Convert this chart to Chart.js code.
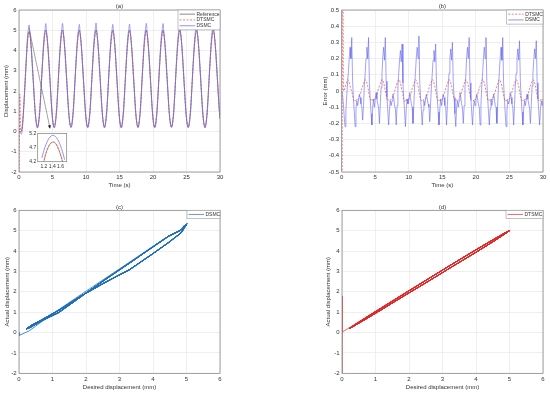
<!DOCTYPE html>
<html>
<head>
<meta charset="utf-8">
<script src="https://cdn.jsdelivr.net/npm/chart.js@4.4.1/dist/chart.umd.min.js"></script>
<style>
  body { margin: 0; background: #fff; }
  #wrap { position: relative; width: 550px; height: 395px; overflow: hidden; }
  canvas { position: absolute; }
</style>
</head>
<body>
<div id="wrap">
  <canvas id="chartA" width="275" height="195" style="left:0;top:0"></canvas>
  <canvas id="chartB" width="275" height="195" style="left:275px;top:0"></canvas>
  <canvas id="chartC" width="275" height="200" style="left:0;top:195px"></canvas>
  <canvas id="chartD" width="275" height="200" style="left:275px;top:195px"></canvas>
  <canvas id="chartInset" width="46" height="42" style="left:25px;top:129px;z-index:2"></canvas>
</div>
<script>
// sample step of the time series (s)
const dt = 0.125;

// reference displacement (mm), one row per cycle
const reference = [
  0, 0, 0.0, 0.02, 0.30, 0.80, 1.45, 2.20, 2.95, 3.70, 4.35, 4.80,
  4.93, 4.84, 4.47, 3.95, 3.30, 2.58, 1.85, 1.19, 0.68, 0.35, 0.21, 0.35, 0.68, 1.19, 1.85, 2.58, 3.30, 3.95, 4.47, 4.84,
  5.00, 4.85, 4.47, 3.95, 3.31, 2.59, 1.86, 1.20, 0.68, 0.34, 0.22, 0.34, 0.67, 1.19, 1.85, 2.58, 3.30, 3.96, 4.48, 4.85,
  5.01, 4.84, 4.46, 3.94, 3.30, 2.58, 1.85, 1.19, 0.68, 0.35, 0.23, 0.35, 0.68, 1.20, 1.86, 2.59, 3.31, 3.95, 4.47, 4.84,
  5.00, 4.84, 4.47, 3.95, 3.30, 2.58, 1.85, 1.19, 0.67, 0.34, 0.22, 0.34, 0.68, 1.19, 1.85, 2.58, 3.30, 3.95, 4.47, 4.84,
  5.02, 4.85, 4.48, 3.96, 3.31, 2.59, 1.86, 1.19, 0.68, 0.35, 0.22, 0.35, 0.68, 1.19, 1.85, 2.58, 3.30, 3.95, 4.46, 4.84,
  5.00, 4.84, 4.47, 3.95, 3.30, 2.58, 1.85, 1.20, 0.68, 0.34, 0.21, 0.34, 0.68, 1.19, 1.86, 2.59, 3.31, 3.96, 4.47, 4.84,
  5.00, 4.84, 4.46, 3.94, 3.30, 2.58, 1.85, 1.19, 0.68, 0.35, 0.22, 0.35, 0.68, 1.19, 1.85, 2.58, 3.30, 3.95, 4.47, 4.85,
  5.01, 4.85, 4.47, 3.95, 3.31, 2.58, 1.86, 1.19, 0.67, 0.34, 0.22, 0.34, 0.68, 1.20, 1.86, 2.58, 3.30, 3.95, 4.47, 4.84,
  5.00, 4.84, 4.47, 3.95, 3.30, 2.58, 1.85, 1.19, 0.68, 0.35, 0.23, 0.35, 0.68, 1.19, 1.85, 2.58, 3.31, 3.96, 4.48, 4.85,
  5.01, 4.84, 4.47, 3.95, 3.30, 2.58, 1.85, 1.19, 0.68, 0.34, 0.22, 0.34, 0.68, 1.19, 1.85, 2.58, 3.30, 3.95, 4.47, 4.84,
  5.00, 4.85, 4.47, 3.95, 3.31, 2.59, 1.86, 1.19, 0.68, 0.35, 0.22, 0.35, 0.67, 1.19, 1.85, 2.58, 3.30, 3.95, 4.47, 4.84,
  5.00, 4.84, 4.47, 3.95, 3.30, 2.58, 1.85, 1.19, 0.68
];

// tracking error of DSMC (mm)
const errorDSMC = [
  0, -0.02, -0.08, -0.16, -0.22, -0.12, -0.03, 0.05, 0.12, 0.20, 0.27, 0.20,
  0.33, 0.06, -0.05, -0.13, -0.22, -0.11, -0.06, -0.09, -0.06, -0.02, -0.04, -0.08, -0.10, -0.18, -0.09, 0.03, 0.11, 0.20, 0.27, 0.20,
  0.33, 0.05, -0.05, -0.14, -0.21, -0.10, -0.05, -0.10, -0.05, -0.01, -0.05, -0.08, -0.10, -0.20, -0.08, 0.02, 0.10, 0.21, 0.27, 0.19,
  0.33, 0.06, -0.04, -0.13, -0.21, -0.11, -0.06, -0.09, -0.06, -0.02, -0.04, -0.09, -0.11, -0.21, -0.09, 0.03, 0.11, 0.19, 0.25, 0.18,
  0.29, 0.05, -0.05, -0.13, -0.22, -0.11, -0.05, -0.08, -0.06, -0.01, -0.04, -0.08, -0.10, -0.20, -0.09, 0.04, 0.12, 0.21, 0.27, 0.20,
  0.34, 0.06, -0.04, -0.12, -0.21, -0.12, -0.06, -0.09, -0.05, -0.02, -0.05, -0.08, -0.10, -0.19, -0.08, 0.03, 0.11, 0.19, 0.25, 0.18,
  0.29, 0.05, -0.05, -0.13, -0.21, -0.11, -0.05, -0.09, -0.06, -0.02, -0.04, -0.09, -0.10, -0.21, -0.09, 0.03, 0.11, 0.20, 0.26, 0.19,
  0.30, 0.06, -0.04, -0.14, -0.22, -0.10, -0.06, -0.10, -0.06, -0.01, -0.04, -0.08, -0.11, -0.20, -0.09, 0.02, 0.10, 0.21, 0.27, 0.20,
  0.33, 0.05, -0.05, -0.13, -0.21, -0.11, -0.06, -0.09, -0.05, -0.02, -0.05, -0.08, -0.10, -0.21, -0.09, 0.03, 0.11, 0.20, 0.27, 0.20,
  0.33, 0.06, -0.04, -0.13, -0.21, -0.11, -0.05, -0.09, -0.06, -0.02, -0.04, -0.09, -0.10, -0.20, -0.08, 0.04, 0.12, 0.21, 0.27, 0.19,
  0.33, 0.05, -0.05, -0.14, -0.22, -0.12, -0.06, -0.08, -0.06, -0.01, -0.04, -0.08, -0.10, -0.21, -0.09, 0.03, 0.11, 0.20, 0.26, 0.19,
  0.31, 0.06, -0.04, -0.13, -0.21, -0.11, -0.06, -0.09, -0.05, -0.02, -0.05, -0.08, -0.11, -0.20, -0.09, 0.03, 0.11, 0.19, 0.26, 0.20,
  0.31, 0.05, -0.05, -0.13, -0.21, -0.11, -0.06, -0.09, -0.06
];

// tracking error of DTSMC (mm), first two samples are the start-up transient
const errorDTSMC = [
  -6.0, 1.80, 0.0, 0.005, 0.02, 0.04, 0.055, 0.07, 0.065, 0.05, 0.03, 0.01,
  0.0, -0.025, -0.05, -0.06, -0.055, -0.06, -0.05, -0.055, -0.05, -0.035, -0.02, -0.005, 0.015, 0.03, 0.045, 0.06, 0.07, 0.065, 0.05, 0.03,
  0.0, -0.03, -0.05, -0.06, -0.05, -0.06, -0.055, -0.05, -0.05, -0.035, -0.02, 0.0, 0.015, 0.03, 0.045, 0.06, 0.072, 0.065, 0.05, 0.03,
  0.0, -0.025, -0.05, -0.06, -0.055, -0.06, -0.05, -0.055, -0.05, -0.03, -0.02, -0.005, 0.015, 0.03, 0.05, 0.06, 0.07, 0.065, 0.05, 0.025,
  0.0, -0.025, -0.05, -0.065, -0.055, -0.06, -0.05, -0.055, -0.05, -0.035, -0.02, -0.005, 0.015, 0.03, 0.045, 0.06, 0.07, 0.065, 0.05, 0.03,
  0.0, -0.03, -0.05, -0.06, -0.055, -0.06, -0.05, -0.05, -0.05, -0.035, -0.02, -0.005, 0.015, 0.035, 0.045, 0.06, 0.072, 0.065, 0.05, 0.03,
  0.0, -0.025, -0.05, -0.06, -0.055, -0.06, -0.05, -0.055, -0.05, -0.035, -0.02, -0.005, 0.015, 0.03, 0.045, 0.06, 0.07, 0.065, 0.05, 0.03,
  0.0, -0.025, -0.05, -0.06, -0.05, -0.06, -0.055, -0.055, -0.05, -0.035, -0.02, -0.005, 0.015, 0.03, 0.045, 0.06, 0.07, 0.06, 0.05, 0.03,
  0.0, -0.025, -0.05, -0.06, -0.055, -0.06, -0.05, -0.055, -0.05, -0.035, -0.02, -0.005, 0.015, 0.03, 0.045, 0.06, 0.072, 0.065, 0.05, 0.03,
  0.0, -0.03, -0.05, -0.06, -0.055, -0.06, -0.05, -0.055, -0.05, -0.035, -0.02, -0.005, 0.015, 0.03, 0.045, 0.06, 0.07, 0.065, 0.05, 0.03,
  0.0, -0.025, -0.05, -0.06, -0.055, -0.065, -0.05, -0.055, -0.05, -0.035, -0.02, -0.005, 0.015, 0.03, 0.045, 0.06, 0.07, 0.065, 0.05, 0.03,
  0.0, -0.025, -0.05, -0.06, -0.055, -0.06, -0.05, -0.055, -0.05, -0.035, -0.02, -0.005, 0.015, 0.03, 0.045, 0.06, 0.07, 0.065, 0.05, 0.03,
  0.0, -0.025, -0.05, -0.06, -0.055, -0.06, -0.05, -0.055, -0.05
];

// zoomed view around the first peak (inset of panel a)
const insetTime = [1.15, 1.2, 1.25, 1.3, 1.35, 1.4, 1.45, 1.5, 1.55, 1.6, 1.65, 1.7];
const insetDSMC = [4.33, 4.60, 4.81, 4.97, 5.08, 5.13, 5.12, 5.06, 4.94, 4.77, 4.55, 4.27];
const insetReference = [3.90, 4.22, 4.50, 4.70, 4.83, 4.89, 4.89, 4.81, 4.66, 4.45, 4.20, 3.85];
const insetXTicks = [1.2, 1.4, 1.6];
const insetYTicks = [4.2, 4.7, 5.2];

// build the series
const time = reference.map((_, i) => i * dt);
const dsmc = reference.map((r, i) => r + errorDSMC[i]);
const dtsmc = reference.map((r, i) => r + errorDTSMC[i]);
const pts = (xs, ys) => xs.map((x, i) => ({ x: x, y: ys[i] }));

const BLUE = '#6464f0';
const RED = '#e4474c';
const font = { family: 'Liberation Sans, Arial, sans-serif', size: 6 };

function xAxis(min, max, step, height, label) {
    return {
        type: 'linear', min: min, max: max,
        ticks: { stepSize: step, padding: 2, color: '#333', font: font, maxRotation: 0, autoSkip: false },
        grid: { color: '#e8e8e8', lineWidth: 0.7, drawTicks: false },
        border: { display: false },
        title: { display: true, text: label, color: '#333', font: font, padding: 0 },
        afterFit: s => { s.height = height; }
    };
}

function yAxis(min, max, step, width, label, fmt) {
    const ax = xAxis(min, max, step, 0, label);
    ax.ticks.padding = 2.5;
    if (fmt) ax.ticks.callback = fmt;
    ax.afterFit = s => { s.width = width; };
    return ax;
}

// box, title and legend drawn MATLAB-like
const frame = {
    id: 'frame',
    beforeDraw(chart, args, opts) {
        if (!opts.white) return;
        const { ctx, chartArea: a } = chart;
        ctx.save();
        ctx.fillStyle = '#fff';
        ctx.fillRect(a.left, a.top, a.right - a.left, a.bottom - a.top);
        ctx.restore();
    },
    afterDraw(chart, args, opts) {
        const { ctx, chartArea: a } = chart;
        ctx.save();
        ctx.strokeStyle = '#7d7d7d';
        ctx.lineWidth = 0.7;
        ctx.strokeRect(a.left, a.top, a.right - a.left, a.bottom - a.top);
        ctx.fillStyle = '#333';
        if (opts.title) {
            ctx.font = '6px Liberation Sans, Arial, sans-serif';
            ctx.textAlign = 'center';
            ctx.textBaseline = 'middle';
            ctx.fillText(opts.title, (a.left + a.right) / 2, a.top - 3.3);
        }
        if (opts.legend) {
            const items = opts.legend.items;
            const w = opts.legend.width, rowH = 5.8;
            const h = items.length * rowH + 2.5;
            const x0 = a.right - w, y0 = a.top;
            ctx.fillStyle = '#fff';
            ctx.fillRect(x0, y0, w, h);
            ctx.strokeStyle = '#9a9a9a';
            ctx.lineWidth = 0.6;
            ctx.strokeRect(x0, y0, w, h);
            ctx.font = '5px Liberation Sans, Arial, sans-serif';
            ctx.textAlign = 'left';
            ctx.textBaseline = 'middle';
            items.forEach((it, i) => {
                const y = y0 + 1.25 + rowH * (i + 0.5);
                ctx.strokeStyle = it.color;
                ctx.lineWidth = 0.7;
                ctx.setLineDash(it.dash || []);
                ctx.beginPath();
                ctx.moveTo(x0 + 1.5, y);
                ctx.lineTo(x0 + 17, y);
                ctx.stroke();
                ctx.setLineDash([]);
                ctx.fillStyle = '#333';
                ctx.fillText(it.label, x0 + 18.5, y);
            });
        }
        ctx.restore();
    }
};

// arrow from the first peak down to the inset
const arrow = {
    id: 'arrow',
    afterDatasetsDraw(chart, args, opts) {
        if (!opts.from) return;
        const { ctx, scales: { x, y } } = chart;
        const x1 = x.getPixelForValue(opts.from[0]), y1 = y.getPixelForValue(opts.from[1]);
        const x2 = x.getPixelForValue(opts.to[0]), y2 = y.getPixelForValue(opts.to[1]);
        const ang = Math.atan2(y2 - y1, x2 - x1);
        ctx.save();
        ctx.strokeStyle = '#666';
        ctx.lineWidth = 0.6;
        ctx.beginPath();
        ctx.moveTo(x1, y1);
        ctx.lineTo(x2, y2);
        ctx.stroke();
        ctx.fillStyle = '#111';
        ctx.beginPath();
        ctx.moveTo(x2, y2);
        ctx.lineTo(x2 - 3.5 * Math.cos(ang - 0.45), y2 - 3.5 * Math.sin(ang - 0.45));
        ctx.lineTo(x2 - 3.5 * Math.cos(ang + 0.45), y2 - 3.5 * Math.sin(ang + 0.45));
        ctx.closePath();
        ctx.fill();
        ctx.restore();
    }
};

Chart.defaults.animation = false;
Chart.defaults.responsive = false;
Chart.defaults.elements.point.radius = 0;

const noLegend = { legend: { display: false }, tooltip: { enabled: false } };
const fmt1 = v => Math.abs(v) < 1e-9 ? '0' : v.toFixed(1);

// (a) displacement
new Chart(document.getElementById('chartA'), {
    type: 'line',
    data: {
        datasets: [
            { data: pts(time, dsmc), borderColor: BLUE, borderWidth: 0.6, tension: 0.3 },
            { data: pts(time, dtsmc), borderColor: RED, borderWidth: 0.7, borderDash: [2, 1.5], tension: 0.3 },
            { data: pts(time, reference), borderColor: '#555', borderWidth: 0.6, tension: 0.3 }
        ]
    },
    options: {
        layout: { padding: { left: 3, right: 55, top: 10, bottom: 5.7 } },
        scales: {
            x: xAxis(0, 30, 5, 17.3, 'Time (s)'),
            y: yAxis(-2, 6, 1, 16, 'Displacement (mm)')
        },
        plugins: Object.assign({}, noLegend, {
            frame: {
                title: '(a)',
                legend: { width: 42, items: [
                    { label: 'Reference', color: '#555' },
                    { label: 'DTSMC', color: RED, dash: [2, 1.5] },
                    { label: 'DSMC', color: BLUE }
                ] }
            },
            arrow: { from: [1.5, 5.1], to: [4.63, 0.15] }
        })
    },
    plugins: [frame, arrow]
});

// inset of (a)
const insetFont = { family: font.family, size: 5 };
new Chart(document.getElementById('chartInset'), {
    type: 'line',
    data: {
        datasets: [
            { data: pts(insetTime, insetDSMC), borderColor: BLUE, borderWidth: 0.7, tension: 0.4 },
            { data: pts(insetTime, insetReference), borderColor: RED, borderWidth: 0.7, borderDash: [2, 1.5], tension: 0.4 },
            { data: pts(insetTime, insetReference), borderColor: '#8a5a30', borderWidth: 0.6, tension: 0.4 }
        ]
    },
    options: {
        layout: { padding: { left: 0, right: 4.3, top: 4, bottom: 0 } },
        scales: {
            x: {
                type: 'linear', min: 1.05, max: 1.75,
                afterBuildTicks: s => { s.ticks = insetXTicks.map(v => ({ value: v })); },
                ticks: { padding: 1.5, color: '#333', font: insetFont, maxRotation: 0, autoSkip: false },
                grid: { display: false, drawTicks: false }, border: { display: false },
                afterFit: s => { s.height = 9.3; }
            },
            y: {
                min: 4.2, max: 5.2,
                afterBuildTicks: s => { s.ticks = insetYTicks.map(v => ({ value: v })); },
                ticks: { padding: 1.5, color: '#333', font: insetFont },
                grid: { display: false, drawTicks: false }, border: { display: false },
                afterFit: s => { s.width = 12.7; }
            }
        },
        plugins: Object.assign({}, noLegend, { frame: { white: true } })
    },
    plugins: [frame]
});

// (b) tracking error
new Chart(document.getElementById('chartB'), {
    type: 'line',
    data: {
        datasets: [
            { data: pts(time, errorDSMC), borderColor: BLUE, borderWidth: 0.6, tension: 0 },
            { data: pts(time, errorDTSMC), borderColor: RED, borderWidth: 0.7, borderDash: [2, 1.5], tension: 0.3 }
        ]
    },
    options: {
        layout: { padding: { left: 46.4, right: 7, top: 10, bottom: 5.7 } },
        scales: {
            x: xAxis(0, 30, 5, 17.3, 'Time (s)'),
            y: yAxis(-0.5, 0.5, 0.1, 20.3, 'Error (mm)', fmt1)
        },
        plugins: Object.assign({}, noLegend, {
            frame: {
                title: '(b)',
                legend: { width: 36.3, items: [
                    { label: 'DTSMC', color: RED, dash: [2, 1.5] },
                    { label: 'DSMC', color: BLUE }
                ] }
            }
        })
    },
    plugins: [frame]
});

// (c) DSMC actual vs desired
new Chart(document.getElementById('chartC'), {
    type: 'scatter',
    data: {
        datasets: [
            { data: pts(reference, dsmc), showLine: true, borderColor: '#1f70b8', borderWidth: 0.8 }
        ]
    },
    options: {
        layout: { padding: { left: 3.7, right: 55, top: 15.3, bottom: 4.1 } },
        scales: {
            x: xAxis(0, 6, 1, 17.6, 'Desired displacement (mm)'),
            y: yAxis(-2, 6, 1, 15.3, 'Actual displacement (mm)')
        },
        plugins: Object.assign({}, noLegend, {
            frame: { title: '(c)', legend: { width: 33, items: [{ label: 'DSMC', color: '#1f70b8' }] } }
        })
    },
    plugins: [frame]
});

// (d) DTSMC actual vs desired
new Chart(document.getElementById('chartD'), {
    type: 'scatter',
    data: {
        datasets: [
            { data: pts(reference, dtsmc), showLine: true, borderColor: '#e02a2a', borderWidth: 0.7 }
        ]
    },
    options: {
        layout: { padding: { left: 49.7, right: 7, top: 15.3, bottom: 4.1 } },
        scales: {
            x: xAxis(0, 6, 1, 17.6, 'Desired displacement (mm)'),
            y: yAxis(-2, 6, 1, 17.3, 'Actual displacement (mm)')
        },
        plugins: Object.assign({}, noLegend, {
            frame: { title: '(d)', legend: { width: 37, items: [{ label: 'DTSMC', color: '#e02a2a' }] } }
        })
    },
    plugins: [frame]
});
</script>
</body>
</html>
